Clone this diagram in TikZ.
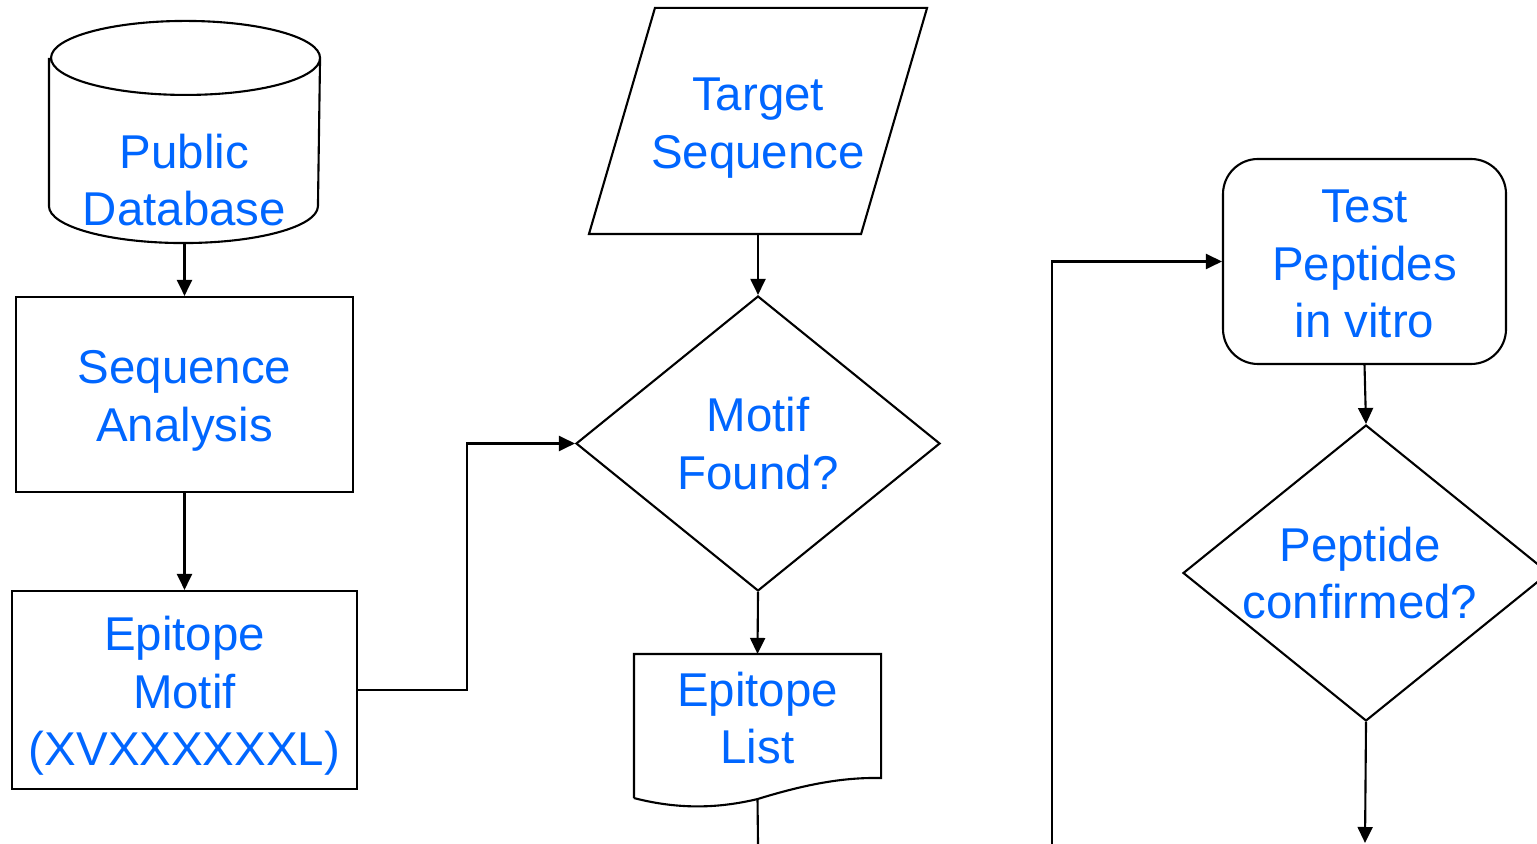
\documentclass[tikz,border=0pt]{standalone}
\usepackage{fontspec}
\setmainfont{Liberation Sans}
\usepackage{tikz}
\usetikzlibrary{arrows.meta,positioning,shapes.geometric,calc}
\definecolor{txtblue}{RGB}{0,102,255}

\begin{document}
\begin{tikzpicture}[
  line width=0.6pt,
  txt/.style={text=txtblue,font=\fontsize{13.5}{16.3}\selectfont,align=center,inner sep=0pt},
  box/.style={txt,draw,minimum width=3.37cm,minimum height=1.95cm},
  shp/.style={txt,minimum width=2.69cm,minimum height=2.2cm},
  dec/.style={txt,draw,diamond,minimum width=3.64cm,minimum height=2.95cm},
  arr/.style={-{Triangle[length=1.6mm,width=1.5mm]}}
]
\useasboundingbox (0,0) rectangle (15.37,-8.44);
\clip (0,0) rectangle (15.37,-8.44);

% left column
\node[shp] (pub) at (1.845,-1.32) {};
\node[txt] at (1.845,-1.80) {Public\\Database};
\draw ($(pub.north west)+(0,-0.37)$) -- ($(pub.south west)+(0,0.37)$)
  arc[start angle=180,end angle=360,x radius=1.345cm,y radius=0.37cm]
  -- ($(pub.north east)+(0,-0.37)$)
  arc[start angle=0,end angle=180,x radius=1.345cm,y radius=0.37cm]
  arc[start angle=180,end angle=360,x radius=1.345cm,y radius=0.37cm];
\node[box,label={[txt,yshift=-0.065cm]center:Sequence\\Analysis}] (seq) at (1.845,-3.945) {};
\node[box,minimum width=3.45cm,minimum height=1.98cm,
  label={[txt,yshift=-0.06cm]center:Epitope\\Motif\\(XVXXXXXXL)}] (motif) at (1.845,-6.90) {};

% middle column
\node[shp,minimum width=3.36cm,minimum height=2.24cm,
  label={[txt,yshift=-0.07cm]center:Target\\Sequence}] (target) at (7.58,-1.21) {};
\draw ($(target.north west)+(0.66,0)$) -- (target.north east)
  -- ($(target.south east)+(-0.66,0)$) -- (target.south west) -- cycle;
\node[dec] (found) at (7.58,-4.435) {Motif\\Found?};
\node[shp,minimum width=2.45cm,minimum height=1.26cm] (elist) at (7.575,-7.18) {Epitope\\List};
\draw ($(elist.south west)+(0,-0.16)$) -- (elist.north west) -- (elist.north east)
  -- ($(elist.south east)+(0,0.04)$)
  .. controls (8.40,-7.77) and (8.00,-7.86) .. ($(elist.south)+(0,-0.17)$)
  .. controls (7.20,-8.08) and (6.80,-8.10) .. ($(elist.south west)+(0,-0.16)$);
\coordinate (elistout) at (7.58,-8.44);

% right column
\node[box,rounded corners=0.35cm,minimum width=2.83cm,minimum height=2.05cm,
  label={[txt,yshift=-0.025cm]center:Test\\Peptides\\in vitro}] (test) at (13.645,-2.615) {};
\node[dec,minimum width=3.66cm,minimum height=2.96cm,
  label={[txt,xshift=-0.06cm]center:Peptide\\confirmed?}] (conf) at (13.66,-5.73) {};
\coordinate (loopin) at (10.52,-8.44);
\coordinate (confout) at (13.65,-8.43);

% connectors
\draw[arr] (pub.south) -- (seq.north);
\draw[arr] (seq.south) -- (motif.north);
\draw[arr] (motif.east) -- ++(1.09,0) |- (found.west);
\draw[arr] (target.south) -- (found.north);
\draw[arr] (found.south) -- (elist.north);
\draw ($(elist.south)+(0,-0.17)$) -- (elistout);
\draw[arr] (loopin) |- (test.west);
\draw[arr] (test.south) -- (conf.north);
\draw[arr] (conf.south) -- (confout);

\end{tikzpicture}
\end{document}
